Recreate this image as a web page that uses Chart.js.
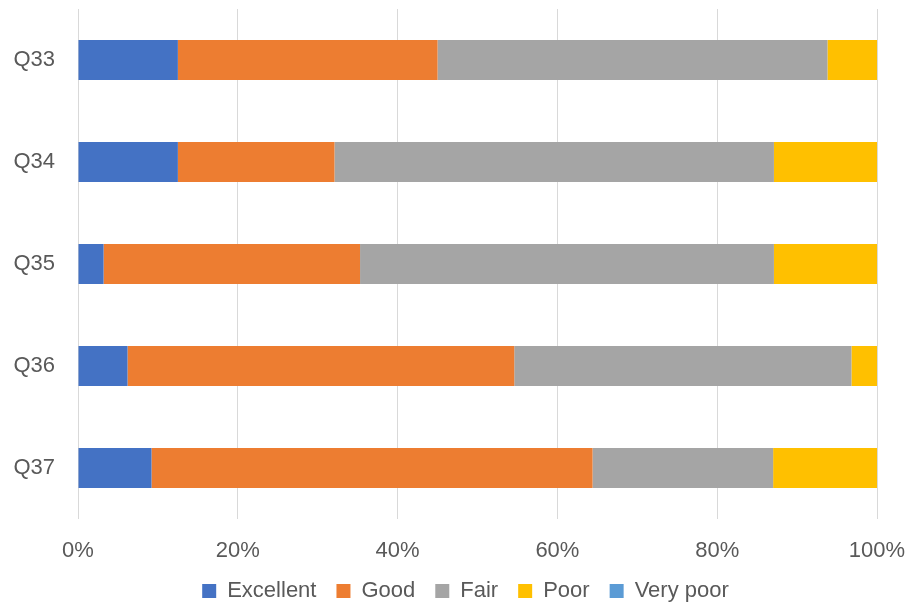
<!DOCTYPE html>
<html>
<head>
<meta charset="utf-8">
<script src="https://cdn.jsdelivr.net/npm/chart.js@4"></script>
<style>
  html, body { margin: 0; padding: 0; background: #ffffff; }
  #wrap { width: 906px; height: 608px; position: relative; }
</style>
</head>
<body>
<div id="wrap"><canvas id="c" width="906" height="608"></canvas></div>
<script>
// Question rating breakdown, share of responses (%)
const questions = ['Q33', 'Q34', 'Q35', 'Q36', 'Q37'];
const excellent = [12.5, 12.5, 3.2, 6.2, 9.2];
const good      = [32.5, 19.6, 32.1, 48.4, 55.2];
const fair      = [48.8, 55.0, 51.8, 42.2, 22.6];
const poor      = [6.2, 12.9, 12.9, 3.2, 13.0];
const veryPoor  = [0, 0, 0, 0, 0];
const xTicks    = [0, 20, 40, 60, 80, 100];

const FONT = '"Liberation Sans", Arial, sans-serif';
const TEXT = '#595959';

const series = [
  { label: 'Excellent', data: excellent, color: '#4472C4' },
  { label: 'Good',      data: good,      color: '#ED7D31' },
  { label: 'Fair',      data: fair,      color: '#A5A5A5' },
  { label: 'Poor',      data: poor,      color: '#FFC000' },
  { label: 'Very poor', data: veryPoor,  color: '#5B9BD5' }
];

// keep tick labels from pushing the plot area inwards
function noScalePadding(scale) {
  scale.paddingTop = 0;
  scale.paddingBottom = 0;
  scale.paddingLeft = 0;
  scale.paddingRight = 0;
}

// nudge the legend row slightly left of the plot-area centre
const legendShift = {
  id: 'legendShift',
  afterLayout(chart) {
    const lg = chart.legend;
    if (lg) { lg.left -= 12; lg.right -= 12; }
  }
};

new Chart(document.getElementById('c'), {
  type: 'bar',
  data: {
    labels: questions,
    datasets: series.map(s => ({
      label: s.label,
      data: s.data,
      backgroundColor: s.color,
      borderWidth: 0,
      barPercentage: 0.392,
      categoryPercentage: 1.0
    }))
  },
  plugins: [legendShift],
  options: {
    indexAxis: 'y',
    responsive: false,
    animation: false,
    devicePixelRatio: 1,
    layout: { padding: { top: 9, right: 29, left: 0, bottom: -4 } },
    plugins: {
      tooltip: { enabled: false },
      legend: {
        position: 'bottom',
        fullSize: false,
        labels: {
          boxWidth: 14,
          boxHeight: 14,
          padding: 20,
          color: TEXT,
          font: { family: FONT, size: 22 }
        }
      }
    },
    scales: {
      x: {
        stacked: true,
        min: 0,
        max: 100,
        afterBuildTicks: (scale) => { scale.ticks = xTicks.map(v => ({ value: v })); },
        afterFit: (scale) => { scale.height = 41; noScalePadding(scale); },
        grid: { color: '#D9D9D9', lineWidth: 1, drawTicks: false },
        border: { display: false },
        ticks: {
          padding: 19,
          color: TEXT,
          font: { family: FONT, size: 22 },
          callback: (v) => v + '%'
        }
      },
      y: {
        stacked: true,
        afterFit: (scale) => { scale.width = 78; noScalePadding(scale); },
        grid: { display: false, drawTicks: false },
        border: { display: false },
        ticks: {
          padding: 23,
          color: TEXT,
          font: { family: FONT, size: 22 }
        }
      }
    }
  }
});
</script>
</body>
</html>
